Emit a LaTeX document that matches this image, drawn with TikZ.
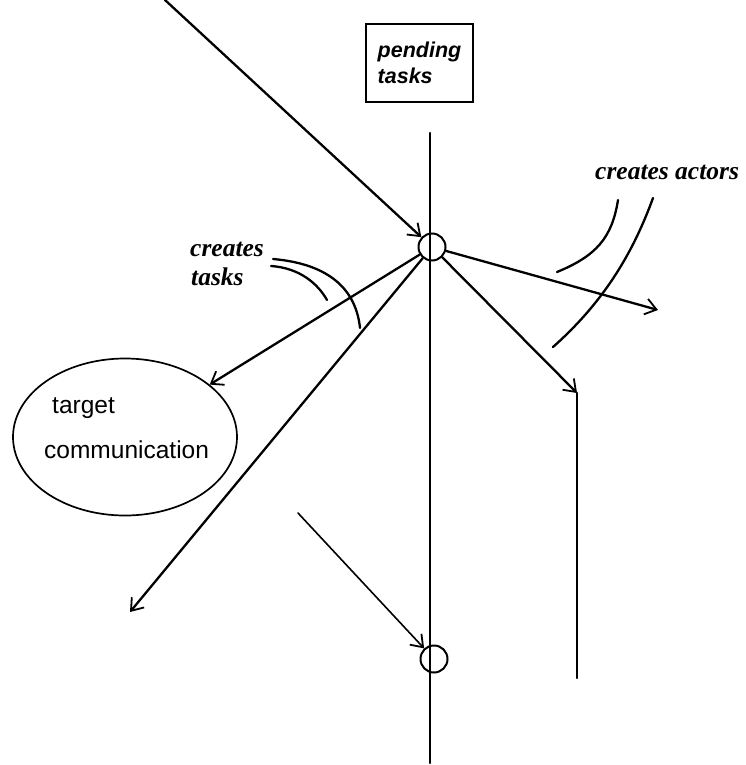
\documentclass[tikz,border=0pt]{standalone}
\usepackage{fontspec}
\newfontfamily\helvfont{Liberation Sans}
\newfontfamily\serffont{Liberation Serif}
\usetikzlibrary{arrows.meta,shapes.geometric}
\begin{document}
\begin{tikzpicture}[x=1pt,y=-1pt,
  ln/.style={line width=2.3pt,line cap=round},
  thinln/.style={line width=1.6pt,line cap=round},
  arr/.style={-{Straight Barb[length=11pt,width=16pt,line width=1.8pt]}},
  dot/.style={circle,draw,line width=2pt,minimum size=27pt,inner sep=0pt},
  lbl/.style={font=\serffont\bfseries\itshape\fontsize{25.5}{25}\selectfont,inner sep=0pt,anchor=west}]
\useasboundingbox (0,0) rectangle (745,765);
% main vertical line
\coordinate (vtop) at (430,133);
\coordinate (vbot) at (430,763);
\draw[ln] (vtop) -- (vbot);
% box
\node[draw,line width=2pt,minimum width=107pt,minimum height=78pt,inner sep=0pt,
      align=left,font=\helvfont\bfseries\itshape\fontsize{21.5}{26}\selectfont] (box) at (419.5,63) {pending\\tasks};
% circles
\node[dot] (c1) at (432,247) {};
\node[dot] (c2) at (434,659) {};
% ellipse
\node[ellipse,draw,line width=1.7pt,minimum width=224pt,minimum height=157pt,inner sep=0pt] (ell) at (125,437) {};
\node[font=\helvfont\fontsize{24.5}{24}\selectfont,anchor=west,inner sep=0pt] (t1) at (52,408) {target};
\node[font=\helvfont\fontsize{24.5}{24}\selectfont,anchor=west,inner sep=0pt] (t2) at (44,450) {communication};
% coordinates
\coordinate (s1) at (165,0);
\coordinate (e1) at (658,310);
\coordinate (e2) at (577,393);
\coordinate (e2b) at (577,678);
\coordinate (e3) at (130,612);
\coordinate (s4) at (298,513);
% connectors
\draw[ln,arr] (s1) -- (c1);
\draw[ln,arr] (c1) -- (e1);
\draw[ln,arr] (c1) -- (e2);
\draw[ln] (e2) -- (e2b);
\draw[ln,arr] (c1) -- (ell);
\draw[ln,arr] (c1) -- (e3);
\draw[thinln,arr] (s4) -- (c2);
% labels
\node[lbl] (ct) at (190,249) {creates};
\node[lbl] (tk) at (191,277) {tasks};
\node[lbl] (ca) at (595,172) {creates actors};
% label curves
\draw[ln] (273,259) .. controls (330,264) and (356,290) .. (360,328);
\draw[ln] (271,266) .. controls (300,268) and (318,284) .. (327,300);
\draw[ln] (618,200) .. controls (612,238) and (596,256) .. (557,272);
\draw[ln] (653,198) .. controls (634,250) and (606,300) .. (553,347);
\end{tikzpicture}
\end{document}
